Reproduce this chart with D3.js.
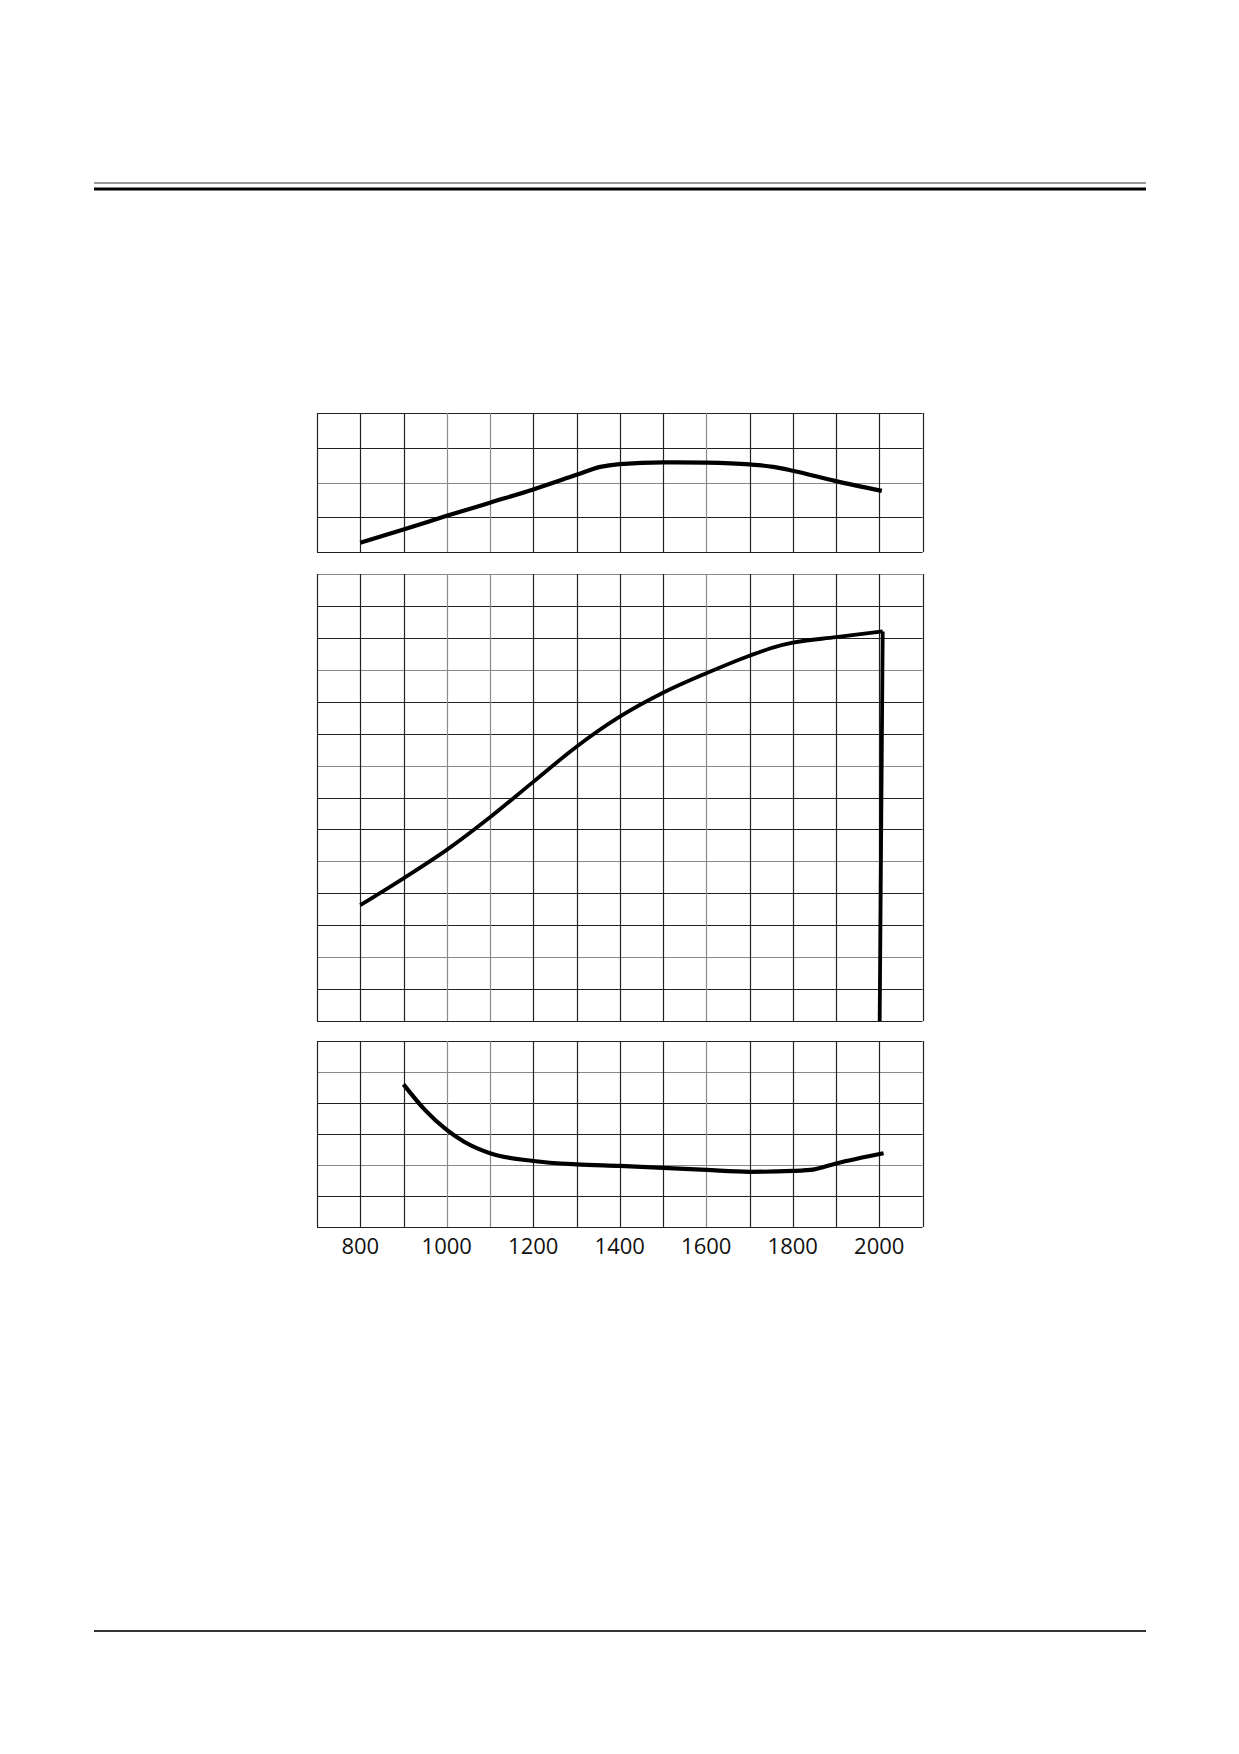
<!DOCTYPE html>
<html>
<head>
<meta charset="utf-8">
<script src="https://cdn.jsdelivr.net/npm/d3@7"></script>
<style>
  html, body { margin: 0; padding: 0; background: #fff; }
  svg { display: block; }
</style>
</head>
<body>
<svg id="chart" width="1239" height="1754"></svg>
<script>
// ---- Data (grid units on y, rpm on x) ----
const xTicks = [800, 1000, 1200, 1400, 1600, 1800, 2000];
const xGrid = [700, 800, 900, 1000, 1100, 1200, 1300, 1400, 1500, 1600, 1700, 1800, 1900, 2000, 2100];

const torqueRpm = [800, 900, 1000, 1100, 1200, 1300, 1355, 1400, 1500, 1600, 1700, 1755, 1800, 1900, 2006];
const torqueVal = [0.27, 0.65, 1.04, 1.42, 1.80, 2.22, 2.45, 2.53, 2.58, 2.57, 2.52, 2.45, 2.34, 2.04, 1.76];

const powerRpm = [800, 900, 1000, 1100, 1200, 1300, 1400, 1500, 1600, 1700, 1760, 1800, 1900, 2008];
const powerVal = [3.63, 4.47, 5.36, 6.38, 7.49, 8.59, 9.53, 10.28, 10.89, 11.44, 11.72, 11.85, 12.02, 12.2];
const governorRpm = [2008, 2001];
const governorVal = [12.2, 0];

const fuelRpm = [900, 950, 1000, 1040, 1100, 1200, 1300, 1400, 1500, 1600, 1700, 1800, 1850, 1900, 2010];
const fuelVal = [4.60, 3.77, 3.13, 2.75, 2.38, 2.13, 2.02, 1.97, 1.91, 1.84, 1.78, 1.81, 1.86, 2.05, 2.38];

const svg = d3.select("#chart");

// header / footer rules
svg.append("line").attr("x1", 94).attr("x2", 1146).attr("y1", 183).attr("y2", 183)
  .attr("stroke", "#777").attr("stroke-width", 1.6);
svg.append("line").attr("x1", 94).attr("x2", 1146).attr("y1", 189).attr("y2", 189)
  .attr("stroke", "#000").attr("stroke-width", 3);
svg.append("line").attr("x1", 94).attr("x2", 1146).attr("y1", 1631).attr("y2", 1631)
  .attr("stroke", "#333").attr("stroke-width", 2);

const x = d3.scaleLinear().domain([700, 2100]).range([317, 922.5]);

function panel(top, bottom, rows) {
  const y = d3.scaleLinear().domain([0, rows]).range([bottom, top]);
  const g = svg.append("g");
  g.selectAll("line.h").data(d3.range(0, rows + 1)).join("line")
    .attr("class", "h")
    .attr("x1", x(700)).attr("x2", x(2100))
    .attr("y1", d => Math.round(y(d)) + 0.5).attr("y2", d => Math.round(y(d)) + 0.5)
    .attr("stroke", (d, i) => (i % 3 === 2 ? "#8a8a8a" : "#222")).attr("stroke-width", 1.2);
  g.selectAll("line.v").data(xGrid).join("line")
    .attr("class", "v")
    .attr("x1", d => Math.round(x(d)) + 0.5).attr("x2", d => Math.round(x(d)) + 0.5)
    .attr("y1", y(0)).attr("y2", y(rows))
    .attr("stroke", (d, i) => (i === 3 || i === 4 || i === 9 ? "#8a8a8a" : "#222")).attr("stroke-width", 1.2);
  return { g, y };
}

function curve(p, xs, ys, width, kind) {
  const pts = xs.map((v, i) => [v, ys[i]]);
  const line = d3.line().x(d => x(d[0])).y(d => p.y(d[1])).curve(kind || d3.curveMonotoneX);
  p.g.append("path").attr("d", line(pts))
    .attr("fill", "none").attr("stroke", "#000").attr("stroke-width", width)
    .attr("stroke-linejoin", "round").attr("stroke-linecap", "butt");
}

const p1 = panel(413, 552, 4);
curve(p1, torqueRpm, torqueVal, 4.2);

const p2 = panel(574, 1021, 14);
curve(p2, powerRpm, powerVal, 3.8);
curve(p2, governorRpm, governorVal, 3.8, d3.curveLinear);

const p3 = panel(1041, 1227, 6);
curve(p3, fuelRpm, fuelVal, 4.2);

svg.append("g").selectAll("text").data(xTicks).join("text")
  .attr("x", d => x(d)).attr("y", 1254)
  .attr("text-anchor", "middle")
  .attr("font-family", "Open Sans, DejaVu Sans, sans-serif")
  .attr("font-size", 22)
  .attr("fill", "#111")
  .text(d => d);
</script>
</body>
</html>
